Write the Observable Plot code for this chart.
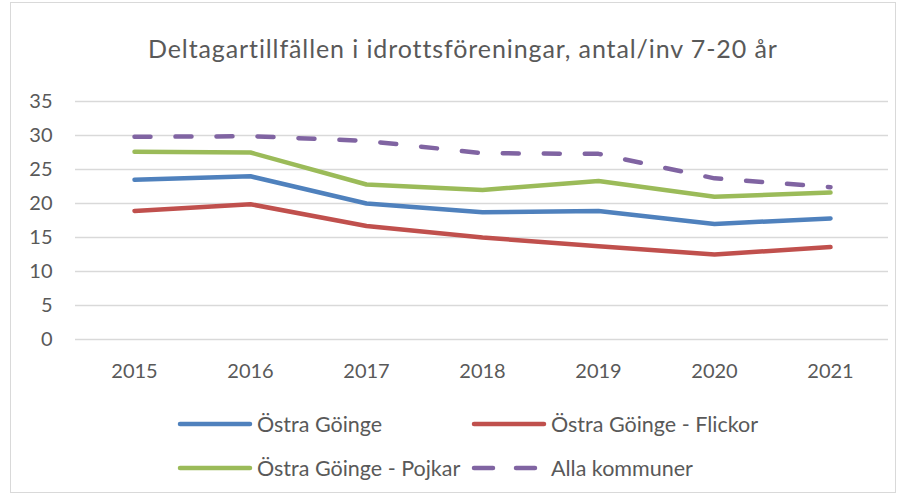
<!DOCTYPE html>
<html>
<head>
<meta charset="utf-8">
<script src="https://cdn.jsdelivr.net/npm/d3@7"></script>
<script src="https://cdn.jsdelivr.net/npm/@observablehq/plot@0.6"></script>
<style>
  html, body { margin: 0; padding: 0; background: #fff; }
  #wrap { position: relative; width: 906px; height: 496px; overflow: hidden; font-family: Lato, "Open Sans", sans-serif; color: #595959; }
  #frame { position: absolute; left: 10px; top: 2px; width: 886px; height: 491px; border: 1px solid #d9d9d9; box-sizing: border-box; }
  #title { position: absolute; left: 148px; top: 33px; font-size: 25px; line-height: 30px; letter-spacing: 0.9px; white-space: nowrap; }
  #chart { position: absolute; left: 0; top: 80px; }
  .leg { position: absolute; display: flex; align-items: center; font-size: 21.5px; line-height: 24px; white-space: nowrap; height: 24px; }
</style>
</head>
<body>
<div id="wrap">
  <div id="frame"></div>
  <div id="title">Deltagartillfällen i idrottsföreningar, antal/inv 7-20 år</div>
  <div id="chart"></div>
  <div id="legend"></div>
</div>
<script>
const years = ["2015", "2016", "2017", "2018", "2019", "2020", "2021"];
const ostraGoinge = [23.5, 24.0, 20.0, 18.7, 18.9, 17.0, 17.8];
const flickor = [18.9, 19.9, 16.7, 15.0, 13.7, 12.5, 13.6];
const pojkar = [27.6, 27.5, 22.8, 22.0, 23.3, 21.0, 21.6];
const alla = [29.8, 29.9, 29.2, 27.4, 27.3, 23.7, 22.4];
const yTicks = [0, 5, 10, 15, 20, 25, 30, 35];

const seriesNames = ["Östra Göinge", "Östra Göinge - Flickor", "Östra Göinge - Pojkar", "Alla kommuner"];
const seriesValues = [ostraGoinge, flickor, pojkar, alla];
const colors = ["#4f81bd", "#c0504d", "#9bbb59", "#8064a2"];

const rows = [];
seriesNames.forEach((name, i) => {
  years.forEach((yr, j) => rows.push({series: name, year: yr, value: seriesValues[i][j]}));
});

const lineMark = (i) => Plot.line(rows.filter(d => d.series === seriesNames[i]), {
  x: "year", y: "value", stroke: colors[i], strokeWidth: 4.5,
  strokeLinecap: "round", strokeLinejoin: "round",
  ...(i === 3 ? {strokeDasharray: "16,25"} : {})
});

const plot = Plot.plot({
  width: 906,
  height: 310,
  marginLeft: 75,
  marginRight: 18,
  marginTop: 21,
  marginBottom: 51,
  style: {fontFamily: "Lato, 'Open Sans', sans-serif", fontSize: "20px", color: "#595959", background: "transparent"},
  x: {type: "point", domain: years, padding: 0.5, label: null},
  y: {domain: [0, 35], label: null},
  marks: [
    Plot.ruleY(yTicks, {stroke: "#d9d9d9", strokeWidth: 1.5}),
    Plot.axisY({ticks: yTicks, tickSize: 0, tickPadding: 23, label: null, fill: "#595959"}),
    Plot.axisX({tickSize: 0, tickPadding: 24, label: null, fill: "#595959"}),
    lineMark(0), lineMark(1), lineMark(2), lineMark(3)
  ]
});
document.getElementById("chart").appendChild(plot);

// legend
const legPos = [
  {left: 176, top: 412},
  {left: 470, top: 412},
  {left: 176, top: 456},
  {left: 470, top: 456}
];
const legend = document.getElementById("legend");
seriesNames.forEach((name, i) => {
  const div = document.createElement("div");
  div.className = "leg";
  div.style.left = legPos[i].left + "px";
  div.style.top = legPos[i].top + "px";
  const dash = i === 3 ? 'stroke-dasharray="19,23"' : '';
  div.innerHTML = `<svg width="79" height="24" style="margin-right:2px"><line x1="4" y1="12" x2="74" y2="12" stroke="${colors[i]}" stroke-width="4.5" stroke-linecap="round" ${dash}/></svg><span>${name}</span>`;
  legend.appendChild(div);
});
</script>
</body>
</html>
